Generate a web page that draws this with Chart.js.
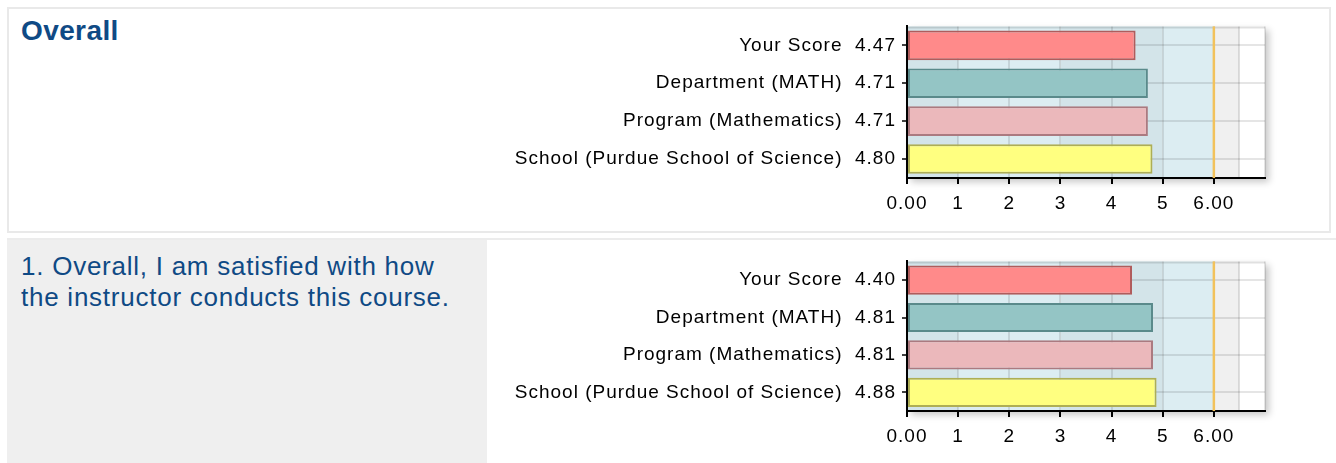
<!DOCTYPE html>
<html>
<head>
<meta charset="utf-8">
<script src="https://cdn.jsdelivr.net/npm/chart.js@4.4.1/dist/chart.umd.min.js"></script>
<style>
  html, body { margin: 0; padding: 0; background: #fff; }
  body { width: 1336px; height: 463px; position: relative; overflow: hidden; font-family: "Liberation Sans", Arial, sans-serif; }
  .panel1 { position: absolute; left: 7px; top: 7px; width: 1324px; height: 226px; box-sizing: border-box; border: 2px solid #e9e9e9; }
  .panel2 { position: absolute; left: 7px; top: 238px; right: 0; height: 225px; border-top: 2px solid #ececec; }
  .cell2 { position: absolute; left: 7px; top: 240px; width: 480px; height: 223px; background: #efefef; }
  .title { position: absolute; left: 21px; top: 15px; font-size: 28px; line-height: 32px; font-weight: bold; color: #0f4a85; letter-spacing: 0.4px; }
  .question { position: absolute; left: 21px; top: 251px; font-size: 26px; line-height: 31px; color: #0f4a85; letter-spacing: 0.75px; }
  .chart { position: absolute; left: 490px; width: 836px; }
  #chartOverall { top: 9px; height: 221px; }
  #chartQ1 { top: 244px; height: 219px; }
</style>
</head>
<body>
<div class="panel1"></div>
<div class="panel2"></div>
<div class="cell2"></div>
<div class="title">Overall</div>
<div class="question">1. Overall, I am satisfied with how<br>the instructor conducts this course.</div>
<div class="chart" id="chartOverall"><canvas id="overall_chart"></canvas></div>
<div class="chart" id="chartQ1"><canvas id="q1_chart"></canvas></div>
<script>
var categories = ['Your Score', 'Department (MATH)', 'Program (Mathematics)', 'School (Purdue School of Science)'];
var overallValues = [4.47, 4.71, 4.71, 4.80];
var q1Values = [4.40, 4.81, 4.81, 4.88];
var xTickValues = [0, 1, 2, 3, 4, 5, 6];
var xTickLabels = ['0.00', '1', '2', '3', '4', '5', '6.00'];
var xGridValues = [0, 1, 2, 3, 4, 5, 6, 6.5, 7];
var xMax = 7;
var targetValue = 6;

var barColors = ['#ff8a8a', '#94c5c5', '#ebb8bb', '#ffff80'];
var barBorders = ['#b05c5c', '#5a8a8b', '#ab7a80', '#aeae55'];

// shaded bands behind the bars
var bands = [
    { from: 0, to: 1, color: '#d3e4e9' },
    { from: 1, to: 3, color: '#dcedf2' },
    { from: 3, to: 5, color: '#d3e4e9' },
    { from: 5, to: 6, color: '#dcedf2' },
    { from: 6, to: 6.5, color: '#f0f0f0' }
];

var spacingPlugin = {
    id: 'spacing',
    beforeLayout: function(chart) { chart.ctx.letterSpacing = '1px'; },
    beforeDraw: function(chart) { chart.ctx.letterSpacing = '1px'; }
};

var backPlugin = {
    id: 'back',
    beforeDraw: function(chart) {
        var ctx = chart.ctx, a = chart.chartArea, x = chart.scales.x;
        ctx.save();
        ctx.shadowColor = 'rgba(0,0,0,0.22)';
        ctx.shadowBlur = 7;
        ctx.shadowOffsetX = 4;
        ctx.shadowOffsetY = 4;
        ctx.fillStyle = '#fff';
        ctx.fillRect(a.left, a.top, a.right - a.left, a.bottom - a.top);
        ctx.restore();
        ctx.save();
        bands.forEach(function(b) {
            var x0 = x.getPixelForValue(b.from), x1 = x.getPixelForValue(b.to);
            ctx.fillStyle = b.color;
            ctx.fillRect(x0, a.top, x1 - x0, a.bottom - a.top);
        });
        ctx.strokeStyle = 'rgba(0,0,0,0.12)';
        ctx.lineWidth = 2;
        ctx.beginPath();
        ctx.moveTo(a.left, a.top + 1);
        ctx.lineTo(a.right, a.top + 1);
        ctx.stroke();
        ctx.restore();
    },
    beforeDatasetsDraw: function(chart) {
        var ctx = chart.ctx, a = chart.chartArea;
        var px = chart.scales.x.getPixelForValue(targetValue);
        ctx.save();
        ctx.strokeStyle = '#f2c25c';
        ctx.lineWidth = 2.5;
        ctx.beginPath();
        ctx.moveTo(px, a.top);
        ctx.lineTo(px, a.bottom);
        ctx.stroke();
        ctx.restore();
    }
};

function makeChart(id, values) {
    var canvas = document.getElementById(id);
    if (!canvas) return;
    var labels = categories.map(function(c, i) { return c + '  ' + values[i].toFixed(2); });
    return new Chart(canvas, {
        type: 'bar',
        plugins: [spacingPlugin, backPlugin],
        data: {
            labels: labels,
            datasets: [{
                data: values,
                backgroundColor: barColors,
                borderColor: barBorders,
                borderWidth: 2,
                borderSkipped: false,
                categoryPercentage: 1,
                barPercentage: 0.78
            }]
        },
        options: {
            indexAxis: 'y',
            maintainAspectRatio: false,
            responsive: true,
            animation: false,
            events: [],
            layout: { padding: { top: 14, right: 61, left: 0, bottom: 0 } },
            plugins: { legend: { display: false }, tooltip: { enabled: false } },
            scales: {
                x: {
                    type: 'linear',
                    min: 0,
                    max: xMax,
                    afterBuildTicks: function(scale) {
                        scale.ticks = xGridValues.map(function(v) { return { value: v }; });
                    },
                    afterFit: function(scale) { scale.height = 52; },
                    ticks: {
                        autoSkip: false,
                        maxRotation: 0,
                        padding: 8,
                        color: '#000',
                        font: { family: '"Liberation Sans", Arial, sans-serif', size: 19 },
                        callback: function(value) {
                            var i = xTickValues.indexOf(value);
                            return i >= 0 ? xTickLabels[i] : '';
                        }
                    },
                    grid: {
                        color: 'rgba(0,0,0,0.1)',
                        lineWidth: 2,
                        tickLength: 6,
                        tickWidth: 2,
                        tickColor: function(c) {
                            return c.tick && c.tick.value <= targetValue ? '#000' : 'rgba(0,0,0,0)';
                        }
                    },
                    border: { display: true, color: '#000', width: 2 }
                },
                y: {
                    type: 'category',
                    offset: true,
                    afterFit: function(scale) { scale.width = 417; },
                    ticks: {
                        padding: 6,
                        color: '#000',
                        font: { family: '"Liberation Sans", Arial, sans-serif', size: 19 }
                    },
                    grid: {
                        offset: false,
                        color: 'rgba(0,0,0,0.1)',
                        lineWidth: 2,
                        tickLength: 5,
                        tickWidth: 1.5,
                        tickColor: '#000'
                    },
                    border: { display: true, color: '#000', width: 2 }
                }
            }
        }
    });
}

makeChart('overall_chart', overallValues);
makeChart('q1_chart', q1Values);
</script>
</body>
</html>
